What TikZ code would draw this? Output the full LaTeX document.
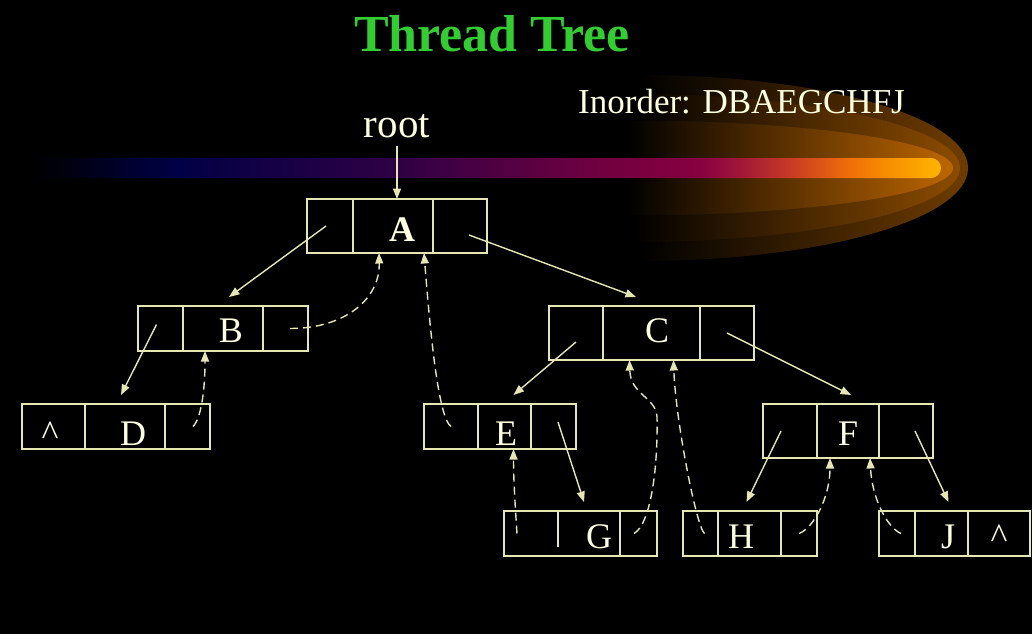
\documentclass[tikz,border=0pt]{standalone}
\usepackage{fontspec}
\setmainfont{Liberation Serif}
\usetikzlibrary{arrows.meta,calc}
\definecolor{linec}{RGB}{230,230,180}
\definecolor{txtc}{RGB}{255,255,225}
\definecolor{titlec}{RGB}{51,204,51}
\definecolor{bA}{HTML}{000046}
\definecolor{bB}{HTML}{300044}
\definecolor{bC}{HTML}{700040}
\definecolor{bD}{HTML}{880040}
\definecolor{bE}{HTML}{A01838}
\definecolor{bF}{HTML}{C83A25}
\definecolor{bG}{HTML}{F07008}
\definecolor{bH}{HTML}{F89000}
\definecolor{bI}{HTML}{FFB400}
\definecolor{gA}{HTML}{6E3C00}
\definecolor{gB}{HTML}{8C4C00}
\definecolor{gC}{HTML}{BC6600}
\pgfdeclarehorizontalshading{barshade}{100bp}{color(0bp)=(black); color(25bp)=(black); color(25.6bp)=(black); color(33.5bp)=(bA); color(45.6bp)=(bB); color(56.5bp)=(bC); color(61.9bp)=(bD); color(64.1bp)=(bE); color(66.8bp)=(bF); color(70.1bp)=(bG); color(72.2bp)=(bH); color(75bp)=(bI); color(100bp)=(bI)}
\begin{document}
\begin{tikzpicture}[x=1pt,y=-1pt,
  cell/.style={draw=linec, line width=1.8pt, inner sep=0pt, outer sep=0pt},
  ghost/.style={inner sep=0pt, outer sep=0pt},
  lbl/.style={text=txtc, font=\fontsize{36}{40}\selectfont, inner sep=0pt, anchor=base},
  link/.style={draw=linec, line width=1.4pt, -{Triangle[length=10.5pt,width=8pt]}},
  thread/.style={link, dash pattern=on 8pt off 5pt}]
\fill[black] (0,0) rectangle (1032,634);
\useasboundingbox (0,0) rectangle (1032,634);
% comet glow
\shade[left color=black, right color=gA] (640,75) arc[start angle=-90, end angle=90, x radius=328, y radius=93] -- cycle;
\shade[left color=black, right color=gB] (633,94) arc[start angle=-90, end angle=90, x radius=327, y radius=74] -- cycle;
\shade[left color=black, right color=gC] (627,120.5) arc[start angle=-90, end angle=90, x radius=326, y radius=47.5] -- cycle;
\shade[shading=barshade, rounded corners=10pt] (20,158) rectangle (941,178);
% texts
\node[font=\fontsize{52}{56}\selectfont\bfseries, text=titlec, anchor=base, inner sep=0pt] (title) at (492,52) {Thread Tree};
\node[text=txtc, font=\fontsize{35}{40}\selectfont, anchor=base west, inner sep=0pt] (inorder) at (578,113) {Inorder: DBAEGCHFJ};
\node[text=txtc, font=\fontsize{41}{44}\selectfont, anchor=base, inner sep=0pt] (root) at (397,137) {root};
% A
\node[cell, minimum width=46, minimum height=54] (A1) at (330,226) {};
\node[cell, minimum width=80, minimum height=54] (A2) at (393,226) {};
\node[cell, minimum width=54, minimum height=54] (A3) at (460,226) {};
% B
\node[cell, minimum width=45, minimum height=45] (B1) at (160.5,328.5) {};
\node[cell, minimum width=80, minimum height=45] (B2) at (223,328.5) {};
\node[cell, minimum width=45, minimum height=45] (B3) at (285.5,328.5) {};
% D
\node[cell, minimum width=63, minimum height=45] (D1) at (53.5,426.5) {};
\node[cell, minimum width=80, minimum height=45] (D2) at (125,426.5) {};
\node[cell, minimum width=45, minimum height=45] (D3) at (187.5,426.5) {};
% C
\node[cell, minimum width=54, minimum height=54] (C1) at (576,333) {};
\node[cell, minimum width=97, minimum height=54] (C2) at (651.5,333) {};
\node[cell, minimum width=54, minimum height=54] (C3) at (727,333) {};
% E
\node[cell, minimum width=54, minimum height=45] (E1) at (451,426.5) {};
\node[cell, minimum width=53, minimum height=45] (E2) at (504.5,426.5) {};
\node[cell, minimum width=45, minimum height=45] (E3) at (553.5,426.5) {};
% F
\node[cell, minimum width=54, minimum height=54] (F1) at (790,431) {};
\node[cell, minimum width=62, minimum height=54] (F2) at (848,431) {};
\node[cell, minimum width=54, minimum height=54] (F3) at (906,431) {};
% G
\node[ghost, minimum width=54, minimum height=45] (G1) at (531,533.5) {};
\node[ghost, minimum width=62, minimum height=45] (G2) at (589,533.5) {};
\node[ghost, minimum width=37, minimum height=45] (G3) at (638.5,533.5) {};
\draw[draw=linec, line width=1.8pt] (G1.north west) rectangle (G3.south east);
\draw[draw=linec, line width=1.8pt] (G3.north west) -- (G3.south west);
\draw[draw=linec, line width=1.8pt] (G2.north west) -- ($(G2.south west)+(0,-9)$);
% H
\node[cell, minimum width=35, minimum height=45] (H1) at (700.5,533.5) {};
\node[cell, minimum width=63, minimum height=45] (H2) at (749.5,533.5) {};
\node[cell, minimum width=36, minimum height=45] (H3) at (799,533.5) {};
% J
\node[cell, minimum width=36, minimum height=45] (J1) at (897,533.5) {};
\node[cell, minimum width=53, minimum height=45] (J2) at (941.5,533.5) {};
\node[cell, minimum width=62, minimum height=45] (J3) at (999,533.5) {};
% labels
\node[lbl, font=\fontsize{36}{40}\selectfont\bfseries] (tA) at (402,241) {A};
\node[lbl] (tB) at (231,342) {B};
\node[lbl] (tD) at (133,445) {D};
\node[lbl] (nD) at (50,445) {\textasciicircum};
\node[lbl] (tC) at (657,342) {C};
\node[lbl] (tE) at (506,445) {E};
\node[lbl] (tF) at (848,445) {F};
\node[lbl] (tG) at (599,548) {G};
\node[lbl] (tH) at (741,548) {H};
\node[lbl] (tJ) at (948,548) {J};
\node[lbl] (nJ) at (999,548) {\textasciicircum};
% solid links
\draw[link] ($(root.base)+(0,9)$) -- (root.base |- A2.north);
\draw[link] ($(A1.center)+(-4,0)$) -- ($(B2.north)+(6,-9)$);
\draw[link] ($(A3.center)+(9,9)$) -- ($(C2.north)+(-15.5,-9)$);
\draw[link] ($(B1.center)+(-4,-4)$) -- ($(D2.north)+(-4,-9)$);
\draw[link] ($(C1.center)+(0,9)$) -- ($(E2.north)+(9,-9)$);
\draw[link] (C3.center) -- ($(F2.north)+(3,-9)$);
\draw[link] ($(E3.center)+(4.5,-4.5)$) -- ($(G2.north)+(-5,-9)$);
\draw[link] ($(F1.center)+(-9,0)$) -- ($(H2.north)+(-3,-9)$);
\draw[link] ($(F3.center)+(9,0)$) -- ($(J2.north)+(7,-9)$);
% threads
\coordinate (gmid) at (657,417);
\draw[thread] ($(B3.center)+(4.5,0)$) .. controls +(55,0) and +(1,46) .. ($(A2.south)+(-14,0)$);
\draw[thread] ($(D3.center)+(5.5,0)$) .. controls +(8,-8) and +(0,40) .. ($(B2.south)+(-18,0)$);
\draw[thread] (E1.center) .. controls +(-13,-9) and +(6,76) .. ($(A2.south)+(31,0)$);
\draw[thread] ($(G1.center)+(-14,0)$) .. controls +(-2,-30) and +(0,30) .. ($(E2.south)+(9,0)$);
\draw[thread] ($(G3.center)+(-4.5,0)$) .. controls +(16,-9) and +(1,55) .. (gmid) .. controls +(-1,-20) and +(1,35) .. ($(C2.south)+(-22,0)$);
\draw[thread] ($(H1.center)+(4,0)$) .. controls +(-8,-6) and +(2,60) .. ($(C2.south)+(22,0)$);
\draw[thread] (H3.center) .. controls +(14,-5) and +(0,40) .. ($(F2.south)+(-18,0)$);
\draw[thread] ($(J1.center)+(4,0)$) .. controls +(-14,-6) and +(2,40) .. ($(F2.south)+(22,0)$);
\end{tikzpicture}
\end{document}
